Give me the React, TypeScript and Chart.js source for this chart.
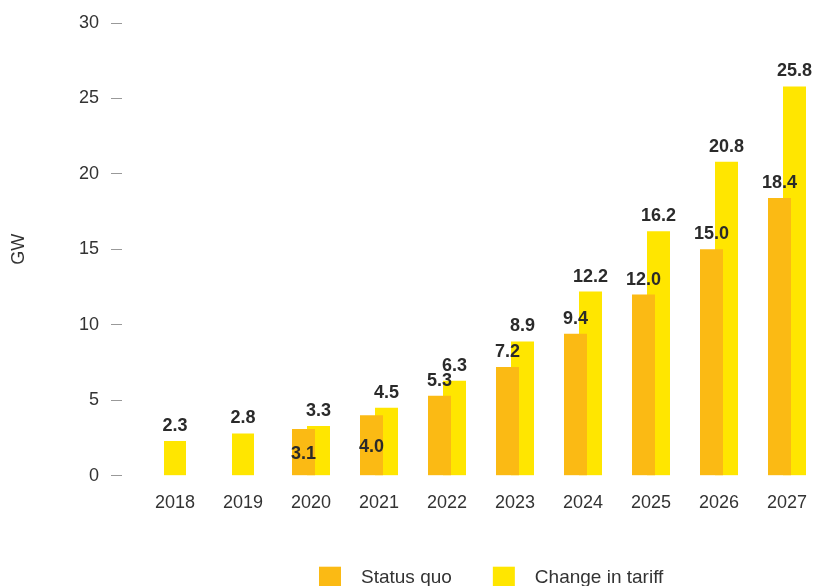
import React, { useEffect, useRef } from 'react';
import { Chart, registerables } from 'chart.js';

Chart.register(...registerables);

// ---- Data ----
const categories = ['2018', '2019', '2020', '2021', '2022', '2023', '2024', '2025', '2026', '2027'];
const historic = [2.3, 2.8, null, null, null, null, null, null, null, null];
const statusQuo = [null, null, 3.1, 4.0, 5.3, 7.2, 9.4, 12.0, 15.0, 18.4];
const changeInTariff = [null, null, 3.3, 4.5, 6.3, 8.9, 12.2, 16.2, 20.8, 25.8];
const yTickValues = [0, 5, 10, 15, 20, 25, 30];
const seriesNames = ['Status quo', 'Change in tariff'];
const yAxisTitle = 'GW';

// ---- Styles ----
const ORANGE = '#FBBA14';
const YELLOW = '#FFE600';
const TEXT = '#333333';
const LABEL = '#2A2A2A';
const FONT = "Arial, 'Liberation Sans', Helvetica, sans-serif";

const toPoints = (vals: (number | null)[]) =>
  vals
    .map((v, i) => (v == null ? null : { x: i, y: v }))
    .filter((p) => p !== null) as { x: number; y: number }[];

const valueLabels = {
  id: 'valueLabels',
  afterDatasetsDraw(chart: any) {
    const ctx = chart.ctx;
    ctx.save();
    ctx.font = `bold 18px ${FONT}`;
    ctx.fillStyle = LABEL;
    ctx.textAlign = 'center';
    chart.data.datasets.forEach((ds: any, di: number) => {
      const meta = chart.getDatasetMeta(di);
      meta.data.forEach((el: any, i: number) => {
        const v = ds.data[i].y;
        const txt = v.toFixed(1);
        if (ds.insideBelow != null && v < ds.insideBelow) {
          ctx.textBaseline = 'middle';
          ctx.fillText(txt, el.x, (el.y + el.base) / 2 + 2);
        } else {
          ctx.textBaseline = 'alphabetic';
          ctx.fillText(txt, el.x, el.y - 10);
        }
      });
    });
    ctx.restore();
  },
};

const customLegend = {
  id: 'customLegend',
  afterDraw(chart: any) {
    const ctx = chart.ctx;
    const area = chart.chartArea;
    ctx.save();
    ctx.font = `19px ${FONT}`;
    ctx.textBaseline = 'middle';
    ctx.textAlign = 'left';
    const items = chart.data.datasets.filter((d: any) => d.inLegend);
    const box = 22;
    const gap = 20;
    const itemGap = 41;
    let x = area.left + 197;
    const y = area.bottom + 102;
    items.forEach((d: any) => {
      ctx.fillStyle = d.backgroundColor;
      ctx.fillRect(x, y - box / 2, box, box);
      ctx.fillStyle = TEXT;
      ctx.fillText(d.label, x + box + gap, y);
      x += box + gap + ctx.measureText(d.label).width + itemGap;
    });
    ctx.restore();
  },
};

export default function App() {
  const ref = useRef<HTMLCanvasElement | null>(null);

  useEffect(() => {
    if (!ref.current) return;
    const chart = new Chart(ref.current, {
      type: 'bar',
      data: {
        datasets: [
          {
            label: seriesNames[0],
            data: toPoints(statusQuo),
            backgroundColor: ORANGE,
            categoryPercentage: 0.4412,
            barPercentage: 1.5333,
            inLegend: true,
            insideBelow: 5,
          } as any,
          {
            label: seriesNames[1],
            data: toPoints(changeInTariff),
            backgroundColor: YELLOW,
            categoryPercentage: 0.4412,
            barPercentage: 1.5333,
            inLegend: true,
          } as any,
          {
            label: 'Historic',
            data: toPoints(historic),
            backgroundColor: YELLOW,
            grouped: false,
            categoryPercentage: 1,
            barPercentage: 0.3235,
            inLegend: false,
          } as any,
        ],
      },
      options: {
        animation: false,
        responsive: false,
        layout: { padding: { top: 23, bottom: 75.3, left: 0, right: 0 } },
        plugins: {
          legend: { display: false },
          tooltip: { enabled: false },
        },
        scales: {
          x: {
            type: 'linear',
            min: -0.7794,
            max: 9.397,
            offset: false,
            grid: { display: false, drawTicks: false },
            border: { display: false },
            afterBuildTicks: (s: any) => {
              s.ticks = categories.map((_, i) => ({ value: i }));
            },
            afterFit: (s: any) => {
              s.height = 35;
              s.paddingLeft = 0;
              s.paddingRight = 0;
            },
            ticks: {
              autoSkip: false,
              maxRotation: 0,
              padding: 17,
              color: TEXT,
              font: { family: FONT, size: 18 },
              callback: (v: any) => categories[v] ?? '',
            },
          },
          y: {
            min: 0,
            max: 30,
            afterBuildTicks: (s: any) => {
              s.ticks = yTickValues.map((v) => ({ value: v }));
            },
            afterFit: (s: any) => {
              s.width = 122;
            },
            grid: {
              display: true,
              drawOnChartArea: false,
              drawTicks: true,
              tickLength: 11,
              color: '#999999',
              lineWidth: 1,
            },
            border: { display: false },
            ticks: {
              padding: 12,
              color: TEXT,
              font: { family: FONT, size: 18 },
            },
            title: {
              display: true,
              text: yAxisTitle,
              color: TEXT,
              font: { family: FONT, size: 18 },
              padding: { top: 8, bottom: 0 },
            },
          },
        },
      } as any,
      plugins: [valueLabels, customLegend],
    });
    return () => chart.destroy();
  }, []);

  return (
    <div style={{ position: 'fixed', left: 0, top: 0, width: 814, height: 586, background: '#fff' }}>
      <canvas ref={ref} width={814} height={586} style={{ display: 'block' }} />
    </div>
  );
}
